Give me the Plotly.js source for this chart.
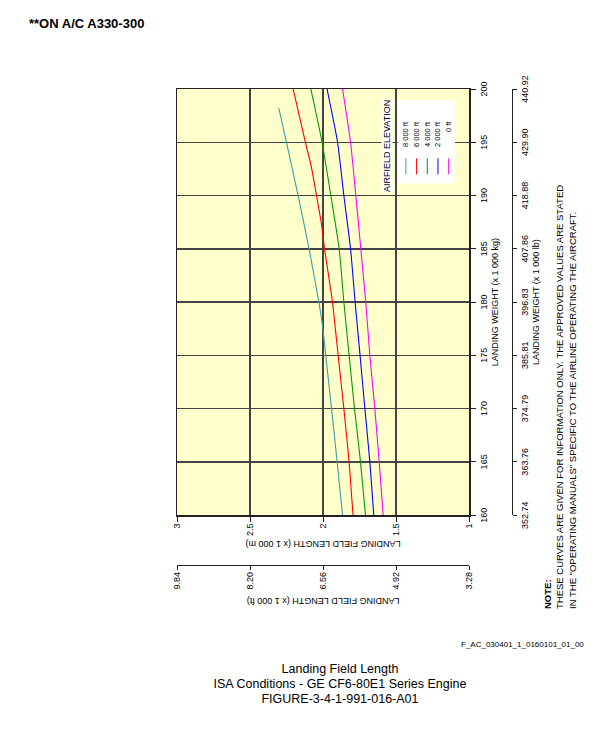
<!DOCTYPE html>
<html>
<head>
<meta charset="utf-8">
<script src="https://cdn.plot.ly/plotly-3.0.1.min.js"></script>
<style>
  html, body { margin:0; padding:0; background:#fff; }
  #page { position:absolute; left:0; top:0; width:612px; height:730px; overflow:hidden; background:#fff;
          font-family:"Liberation Sans", Arial, sans-serif; color:#000; }
  #plot { position:absolute; left:0; top:0; width:730px; height:612px;
          transform-origin:0 0; transform:translate(0px,730px) rotate(-90deg); }
  #hdr { position:absolute; left:29px; top:16px; font-size:13px; font-weight:bold; line-height:16px; white-space:nowrap; }
  #ref { position:absolute; left:461px; top:640px; font-size:8px; line-height:10px; white-space:nowrap; }
  #cap { position:absolute; left:140px; width:400px; top:662px; text-align:center; font-size:12.5px; line-height:15px; }
</style>
</head>
<body>
<div id="page">
  <div id="plot"></div>
  <div id="hdr">**ON A/C A330-300</div>
  <div id="ref">F_AC_030401_1_0160101_01_00</div>
  <div id="cap">Landing Field Length<br>ISA Conditions - GE CF6-80E1 Series Engine<br>FIGURE-3-4-1-991-016-A01</div>
</div>
<script>
// ---------------- DATA ----------------
// landing weight (x 1 000 kg)
const weightKg = [160, 165, 170, 175, 180, 185, 190, 195, 200];
const weightKg6000 = [160, 165, 170, 175, 180, 185, 187.3, 190, 192.6, 195, 200];
const weightKg8000 = [160, 165, 170, 175, 178, 180, 185, 190, 195, 198.2];
// landing field length (x 1 000 m) per airfield elevation
const len8000ft = [1.867, 1.904, 1.942, 1.982, 2.006, 2.029, 2.096, 2.171, 2.251, 2.303];
const len6000ft = [1.795, 1.822, 1.858, 1.897, 1.936, 1.990, 2.011, 2.045, 2.079, 2.121, 2.205];
const len4000ft = [1.710, 1.744, 1.785, 1.822, 1.858, 1.890, 1.947, 2.007, 2.084];
const len2000ft = [1.653, 1.680, 1.714, 1.747, 1.781, 1.812, 1.858, 1.901, 1.973];
const len0ft    = [1.589, 1.616, 1.646, 1.680, 1.708, 1.742, 1.776, 1.812, 1.867];
const seriesNames = ["8 000 ft", "6 000 ft", "4 000 ft", "2 000 ft", "0 ft"];
// tick labels
const fieldTicksM = [1, 1.5, 2, 2.5, 3];
const fieldTickLabelsM = ["1", "1.5", "2", "2.5", "3"];
const fieldTickLabelsFt = ["3.28", "4.92", "6.56", "8.20", "9.84"];
const weightTickLabelsKg = ["160", "165", "170", "175", "180", "185", "190", "195", "200"];
const weightTickLabelsLb = ["352.74", "363.76", "374.79", "385.81", "396.83", "407.86", "418.88", "429.90", "440.92"];

// ---------------- STYLE / LAYOUT ----------------
const colors = ["#3C9F9F", "#FF0000", "#009A00", "#0000FF", "#FF00FF"];
const FONT = "Liberation Sans, Arial, sans-serif";
const W = 730, H = 612;                 // unrotated figure size
const PL = 215, PR = 641.4;             // plot area (unrotated x)
const PT = 177.3, PB = 469.3;           // plot area (unrotated y)
const plotW = PR;                       // margin.l = 0
const plotH = H - PT;                   // margin.b = 0
const px = u => u / plotW;
const py = v => (H - v) / plotH;

const xs = [weightKg8000, weightKg6000, weightKg, weightKg, weightKg];
const ys = [len8000ft, len6000ft, len4000ft, len2000ft, len0ft];

const traces = seriesNames.map((n, i) => ({
  type: "scatter", mode: "lines", name: n,
  x: xs[i], y: ys[i],
  line: { color: colors[i], width: 1.1, shape: "spline", smoothing: 0.5 },
  showlegend: false, hoverinfo: "skip"
}));
// invisible companion trace so the secondary (lb / ft) axes are drawn
traces.push({
  type: "scatter", mode: "lines", x: weightKg, y: len0ft, xaxis: "x2", yaxis: "y2",
  line: { width: 0 }, opacity: 0, showlegend: false, hoverinfo: "skip"
});

const axFont = { family: FONT, size: 9, color: "#000" };
const gridC = "#444444";

const shapes = [{
  type: "rect", xref: "paper", yref: "paper",
  x0: px(547), x1: px(630), y0: py(398), y1: py(455),
  fillcolor: "#ffffff", line: { width: 0 }, layer: "above"
}];
const annotations = [{
  xref: "paper", yref: "paper", x: px(631), y: py(387), xanchor: "right", yanchor: "middle",
  text: "AIRFIELD ELEVATION", showarrow: false, font: { family: FONT, size: 9, color: "#000" },
  bgcolor: "#ffffff", borderpad: 0
}, {
  xref: "paper", yref: "paper", x: px(119), y: py(560), xanchor: "left", yanchor: "middle", align: "left",
  text: "<b>NOTE:</b><br>THESE CURVES ARE GIVEN FOR INFORMATION ONLY. THE APPROVED VALUES ARE STATED<br>IN THE \"OPERATING MANUALS\" SPECIFIC TO THE AIRLINE OPERATING THE AIRCRAFT.",
  showarrow: false, font: { family: FONT, size: 9.5, color: "#000" }
}];
seriesNames.forEach((n, i) => {
  const v = 406 + i * 10.7;
  shapes.push({ type: "line", xref: "paper", yref: "paper", x0: px(556), x1: px(572), y0: py(v), y1: py(v),
                line: { color: colors[i], width: 1 }, layer: "above" });
  annotations.push({ xref: "paper", yref: "paper", x: px(611), y: py(v), xanchor: "right", yanchor: "middle",
                     text: n, showarrow: false, font: { family: FONT, size: 7.5, color: "#000" } });
});

const layout = {
  width: W, height: H,
  margin: { l: 0, r: W - PR, t: PT, b: 0, pad: 0 },
  paper_bgcolor: "rgba(0,0,0,0)", plot_bgcolor: "#FFFFCC",
  showlegend: false, hovermode: false,
  font: { family: FONT, size: 9, color: "#000" },
  xaxis: {
    domain: [PL / plotW, 1], range: [160, 200],
    tickmode: "array", tickvals: weightKg, ticktext: weightTickLabelsKg,
    ticks: "outside", ticklen: 5, tickwidth: 1, tickcolor: "#222",
    showgrid: true, gridcolor: gridC, gridwidth: 1.4,
    showline: true, linecolor: "#222", linewidth: 1.5, mirror: true, zeroline: false,
    tickfont: axFont, title: { text: "LANDING WEIGHT (x 1 000 kg)", font: axFont, standoff: 4 }
  },
  yaxis: {
    domain: [(H - PB) / plotH, 1], range: [1, 3],
    tickmode: "array", tickvals: fieldTicksM, ticktext: fieldTickLabelsM,
    ticks: "outside", ticklen: 5, tickwidth: 1, tickcolor: "#222",
    showgrid: true, gridcolor: gridC, gridwidth: 1.4,
    showline: true, linecolor: "#222", linewidth: 1.5, mirror: true, zeroline: false,
    tickfont: axFont, title: { text: "LANDING FIELD LENGTH (x 1 000 m)", font: axFont, standoff: 3 }
  },
  xaxis2: {
    overlaying: "x", anchor: "free", position: py(512), side: "bottom", range: [160, 200],
    tickmode: "array", tickvals: weightKg, ticktext: weightTickLabelsLb,
    ticks: "outside", ticklen: 4, tickwidth: 1, tickcolor: "#222",
    showgrid: false, showline: true, linecolor: "#222", linewidth: 1.2, zeroline: false,
    tickfont: axFont, title: { text: "LANDING WEIGHT (x 1 000 lb)", font: axFont, standoff: 3 }
  },
  yaxis2: {
    overlaying: "y", anchor: "free", position: px(164), side: "left", range: [1, 3],
    tickmode: "array", tickvals: fieldTicksM, ticktext: fieldTickLabelsFt,
    ticks: "outside", ticklen: 4, tickwidth: 1, tickcolor: "#222",
    showgrid: false, showline: true, linecolor: "#222", linewidth: 1.2, zeroline: false,
    tickfont: axFont, title: { text: "LANDING FIELD LENGTH (x 1 000 ft)", font: axFont, standoff: 5 }
  },
  shapes: shapes,
  annotations: annotations
};

Plotly.newPlot("plot", traces, layout, { displayModeBar: false, staticPlot: true });
</script>
</body>
</html>
